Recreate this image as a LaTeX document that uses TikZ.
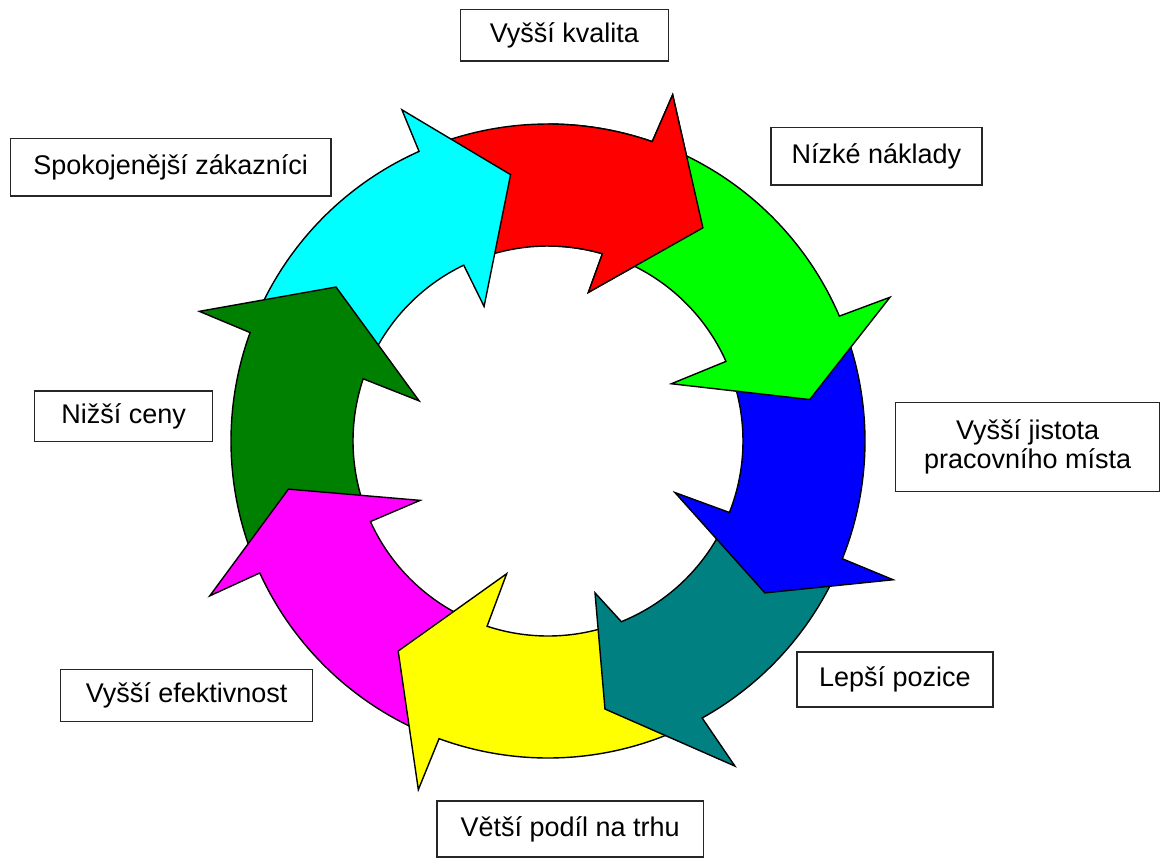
\documentclass[tikz,border=0pt]{standalone}
\usepackage{fontspec}
\setmainfont{Liberation Sans}
\definecolor{ringred}{RGB}{255,0,0}
\definecolor{ringgreen}{RGB}{0,255,0}
\definecolor{ringblue}{RGB}{0,0,255}
\definecolor{ringteal}{RGB}{0,128,128}
\definecolor{ringyellow}{RGB}{255,255,0}
\definecolor{ringmagenta}{RGB}{255,0,255}
\definecolor{ringdkgreen}{RGB}{0,128,0}
\definecolor{ringcyan}{RGB}{0,255,255}
\newcommand\ringout{317}
\newcommand\ringin{195}
% #1 colour, #2 #3 tail (outer, inner), #4 outer notch, #5 outer barb, #6 tip, #7 inner barb, #8 inner notch
\newcommand\ringarrow[8]{%
  \draw[cyclearrow,fill=#1] (#2:\ringout) arc[start angle=#2,end angle=#4,radius=\ringout]
    -- (#5) -- (#6) -- (#7) -- (#8:\ringin) arc[start angle=#8,end angle=#3,radius=\ringin] -- cycle;}
\begin{document}
\begin{tikzpicture}[x=0.5pt,y=0.5pt,
  cyclearrow/.style={draw=black,line width=0.7pt,line join=miter},
  labelbox/.style={draw=black!85,line width=0.75pt,align=center,inner sep=0pt,
    font=\fontsize{13.5pt}{14.5pt}\selectfont}]
\useasboundingbox (-548,-418) rectangle (613,441);
\ringarrow{ringred}{110}{111.6}{70.8}{70.2:368}{54:263.5}{74.8:154}{73.8}
\ringarrow{ringcyan}{156}{157.4}{114}{113.8:362}{98:269}{115.4:149}{115.6}
\ringarrow{ringdkgreen}{200.6}{200.4}{160}{159.6:372}{144:262}{162.7:135}{161.4}
\ringarrow{ringmagenta}{245.9}{247.8}{204.6}{204.6:372}{190.5:264}{204.9:141}{204.4}
\ringarrow{ringyellow}{-64.9}{-71.9}{-110.1}{-110.4:372}{-125.5:258}{-107.3:139}{-108.2}
\ringarrow{ringteal}{-25.8}{-25.5}{-60.9}{-60.1:375}{-78:274}{-72.8:159}{-67.9}
\ringarrow{ringblue}{19.2}{20.1}{-21.8}{-21.9:372}{-35:264.8}{-22.1:137}{-21.5}
\ringarrow{ringgreen}{66.8}{69.8}{23.2}{22.8:371}{9:265}{24.9:136}{24.1}
% red head again, over the green tail
\begin{scope}
\clip (0,0) rectangle (420,441);
\ringarrow{ringred}{110}{111.6}{70.8}{70.2:368}{54:263.5}{74.8:154}{73.8}
\end{scope}
\node[labelbox,minimum width=104pt,minimum height=25.75pt] (kvalita) at (16.5,406) {Vyšší kvalita};
\node[labelbox,minimum width=105.5pt,minimum height=28.8pt] (naklady) at (328.3,284.6) {Nízké náklady};
\node[labelbox,minimum width=132pt,minimum height=44.4pt] (jistota) at (479.7,-6) {Vyšší jistota\\pracovního místa};
\node[labelbox,minimum width=98pt,minimum height=27.5pt] (pozice) at (346.8,-238.3) {Lepší pozice};
\node[labelbox,minimum width=133.3pt,minimum height=28pt] (podil) at (22.1,-388) {Větší podíl na trhu};
\node[labelbox,minimum width=125.9pt,minimum height=26pt] (efektivnost) at (-361.4,-254.4) {Vyšší efektivnost};
\node[labelbox,minimum width=88.85pt,minimum height=25.2pt] (ceny) at (-424.4,24.7) {Nižší ceny};
\node[labelbox,minimum width=160.3pt,minimum height=28.75pt] (zakaznici) at (-377.3,273.6) {Spokojenější zákazníci};
\end{tikzpicture}
\end{document}
